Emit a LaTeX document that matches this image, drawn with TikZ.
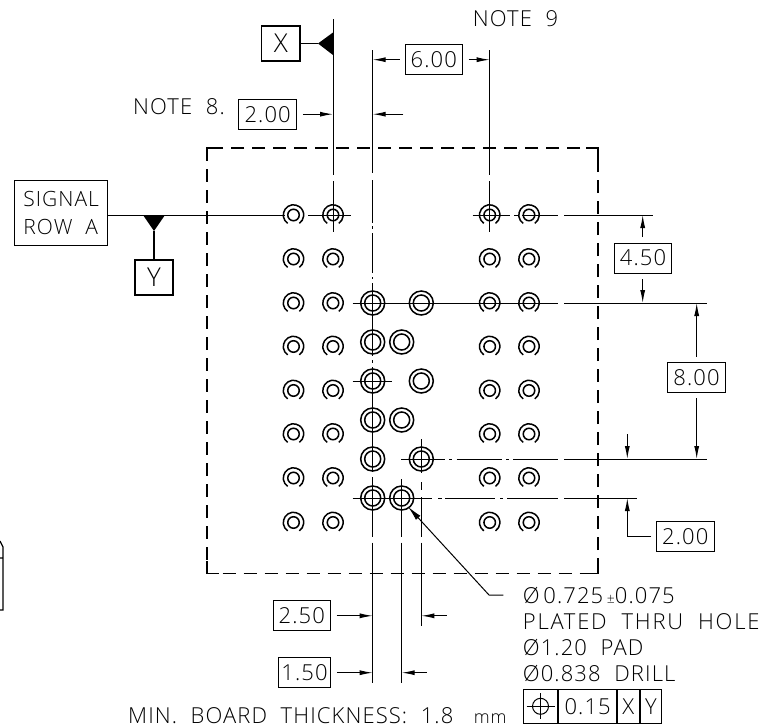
\documentclass[tikz,border=0pt]{standalone}
\usepackage{fontspec}
\setmainfont{Open Sans Light}[LetterSpace=5]
\usetikzlibrary{positioning,arrows.meta}
\begin{document}
\begin{tikzpicture}[x=1pt, y=-1pt,
    every node/.style = {font=\fontsize{22}{26}\selectfont, text=black},
    fine/.style = {line width=1pt},
    heavy/.style = {line width=1.6pt},
    dim/.style = {fine, -{Latex[length=13pt,width=5pt]}},
    dimbox/.style = {draw, line width=1pt, minimum height=30pt, inner sep=0pt},
    datum/.style = {draw=black, line width=1.7pt, inner sep=0pt, minimum width=38.5pt, minimum height=35pt, font=\fontsize{26}{30}\selectfont},
    drill/.style = {circle, draw=black, line width=1.5pt, minimum size=11.5pt, inner sep=0pt},
    pad/.style = {circle, draw=black, line width=1.5pt, minimum size=24pt, inner sep=0pt},
    padhole/.style = {circle, draw=black, line width=1.5pt, minimum size=16pt, inner sep=0pt},
    cell/.style = {draw=black, line width=1pt, minimum height=34pt, inner sep=0pt}]
    \clip (0,0) rectangle (772,728);

    \draw[heavy, dash pattern=on 13pt off 8pt] (207,148) rectangle (598,573.5);
    \draw[heavy] (207,160) -- (207,148) -- (219,148);
    \draw[heavy] (586,148) -- (598,148) -- (598,160);
    \draw[heavy] (207,561) -- (207,573.5) -- (219,573.5);
    \draw[heavy] (586,573.5) -- (598,573.5) -- (598,561);

    % small holes
    \foreach \cx/\c in {293.5/a, 333/b, 489.7/c, 529/d}
        \foreach \ry/\r in {215/1, 259/2, 303/3, 346.5/4, 390.5/5, 434/6, 478/7, 522.5/8} {
            \node[drill] (s\c\r) at (\cx,\ry) {};
            \draw[line width=1.5pt] (s\c\r.center) ++(125:10.2) arc[start angle=125, end angle=415, radius=10.2];
        }

    % large holes
    \foreach \cx/\ry/\n in {372.7/303/1, 421.3/303/2, 372.7/342/3, 401.7/342/4, 372.7/381/5,
        421.3/381/6, 372.7/420/7, 401.7/420/8, 372.7/459/9, 421.3/459/10, 372.7/498/11, 401.7/498/12} {
        \node[pad] (p\n) at (\cx,\ry) {};
        \node[padhole] at (p\n) {};
    }

    % centre lines
    \draw[fine] (333,19) -- (333,175) (333,181) -- (333,232);
    \draw[fine] (489.7,50) -- (489.7,175) (489.7,181) -- (489.7,232);
    \draw[fine] (372.7,50) -- (372.7,173) (372.7,180) -- (372.7,223) (372.7,226) -- (372.7,229)
        (372.7,233) -- (372.7,273) (372.7,277) -- (372.7,279) (372.7,283) -- (372.7,356)
        (372.7,360) -- (372.7,363) (372.7,367) -- (372.7,472) (372.7,477) -- (372.7,536.7)
        (372.7,542.7) -- (372.7,682.7);
    \draw[fine] (401.7,479) -- (401.7,536.7) (401.7,542.7) -- (401.7,682.7);
    \draw[fine] (421.3,439) -- (421.3,473) (421.3,482) -- (421.3,490) (421.3,497) -- (421.3,536.7)
        (421.3,542.7) -- (421.3,626);
    \draw[fine] (308,215) -- (351,215) (472.7,215) -- (510,215) (514,215) -- (518,215)
        (522,215) -- (558,215) (564,215) -- (653,215);
    \draw[fine] (352.7,303) -- (557.7,303) (564,303) -- (706.7,303);
    \draw[fine] (352.7,381) -- (392,381);
    \draw[fine] (401,459) -- (445,459) (449,459) -- (452,459) (456.7,459) -- (501.7,459)
        (506,459) -- (509,459) (513,459) -- (557.7,459) (564,459) -- (706.7,459);
    \draw[fine] (352.7,498) -- (431.7,498) (438,498) -- (442,498) (445,498) -- (495,498)
        (500,498) -- (503,498) (507,498) -- (557.7,498) (564,498) -- (637,498);

    % datums
    \node[datum] (datumx) at (280.8,43.5) {X};
    \node[datum] (datumy) at (154,277.5) {Y};
    \node[draw, line width=1pt, minimum width=93pt, minimum height=65pt, inner sep=0pt,
        align=left, font=\fontsize{21}{25}\selectfont] (signal) at (61.2,213.3) {SIGNAL\\[3pt]ROW\ \ A};
    \coordinate (xtip) at (318,43.5);
    \coordinate (ytip) at (154,231);
    \fill (xtip) -- (333,32.5) -- (333,55) -- cycle;
    \fill (ytip) -- (143,215) -- (165,215) -- cycle;
    \draw[fine] (datumx) -- (xtip);
    \draw[line width=1.1pt] (datumy) -- (ytip);
    \draw[fine] (signal.east |- 0,215) -- (285,215);

    % dimensions
    \node (note8) at (179,107) {NOTE\ \ 8.};
    \node (note9) at (515.5,19) {NOTE\ \ 9};
    \node[dimbox, minimum width=57.5pt] (dima) at (267.7,114.2) {2.00};
    \node[dimbox, minimum width=57.5pt] (dimb) at (433.8,59.7) {6.00};
    \node[dimbox, minimum width=57.5pt] (dimc) at (643,258) {4.50};
    \node[dimbox, minimum width=57.5pt] (dimd) at (696.5,377.8) {8.00};
    \node[dimbox, minimum width=57.5pt] (dime) at (685.3,536.2) {2.00};
    \node[dimbox, minimum width=57.5pt] (dimf) at (301.8,615.8) {2.50};
    \node[dimbox, minimum width=52.5pt] (dimg) at (304.5,672.7) {1.50};

    \draw[dim] (dima.east) ++(6,0) -- (333,114.2);
    \draw[dim] (403.3,114.2) -- (372.7,114.2);
    \draw[dim] (dimb.west) ++(-5,0) -- (372.7,59.7);
    \draw[dim] (dimb.east) ++(5.5,0) -- (489.7,59.7);
    \draw[dim] (642.7,237) -- (642.7,215);
    \draw[dim] (642.7,279) -- (642.7,303);
    \draw[dim] (696.7,356.7) -- (696.7,303);
    \draw[dim] (696.7,398.3) -- (696.7,459);
    \draw[dim] (627.3,434.3) -- (627.3,459);
    \draw[dim] (651,536.7) -- (627.3,536.7) -- (627.3,498);
    \draw[dim] (dimf.east) ++(5.5,0) -- (372.7,615.8);
    \draw[dim] (446.7,615.8) -- (421.3,615.8);
    \draw[dim] (dimg.east) ++(5.5,0) -- (372.7,672.7);
    \draw[dim] (426.7,672.7) -- (401.7,672.7);

    % hole callout
    \draw[fine, -{Latex[length=15pt,width=6pt]}] (503.3,595) -- (489,595) -- (408,506.7);
    \node[anchor=west, inner sep=0pt] (size) at (522.7,595) {Ø\,0.725\,{\fontsize{14}{16}\selectfont ±}0.075};
    \node[anchor=west, inner sep=0pt] (plated) at (522.7,621.7) {\addfontfeature{LetterSpace=8}PLATED\ \ THRU\ \ HOLE};
    \node[anchor=west, inner sep=0pt] (padsize) at (522.7,647) {Ø1.20\ \ PAD};
    \node[anchor=west, inner sep=0pt] (drillsize) at (522.7,673) {Ø0.838\ \ DRILL};

    % tolerance frame
    \node[cell, minimum width=34.6pt, anchor=west] (fcfa) at (522.7,706.3) {};
    \node[cell, minimum width=57.7pt, right=0pt of fcfa] (fcfb) {0.15};
    \node[cell, minimum width=21.7pt, right=0pt of fcfb] (fcfc) {X};
    \node[cell, minimum width=21.7pt, right=0pt of fcfc] (fcfd) {Y};
    \node[circle, draw=black, line width=1pt, minimum size=16pt, inner sep=0pt] (posn) at (fcfa) {};
    \draw[line width=1pt] (posn.center) ++(-14,0) -- ++(28,0) (posn.center) ++(0,-13) -- ++(0,26);

    \node[anchor=west, inner sep=0pt] (board) at (128,716) {MIN.\ \ BOARD\ \ THICKNESS:\ \ 1.8\ \ \ {\fontsize{18}{20}\selectfont mm}};

    % cut-off view at the left edge
    \draw[line width=1.3pt] (0,541) -- (3,547) -- (3,610) -- (0,610) (0,558) -- (3,558);
\end{tikzpicture}
\end{document}
